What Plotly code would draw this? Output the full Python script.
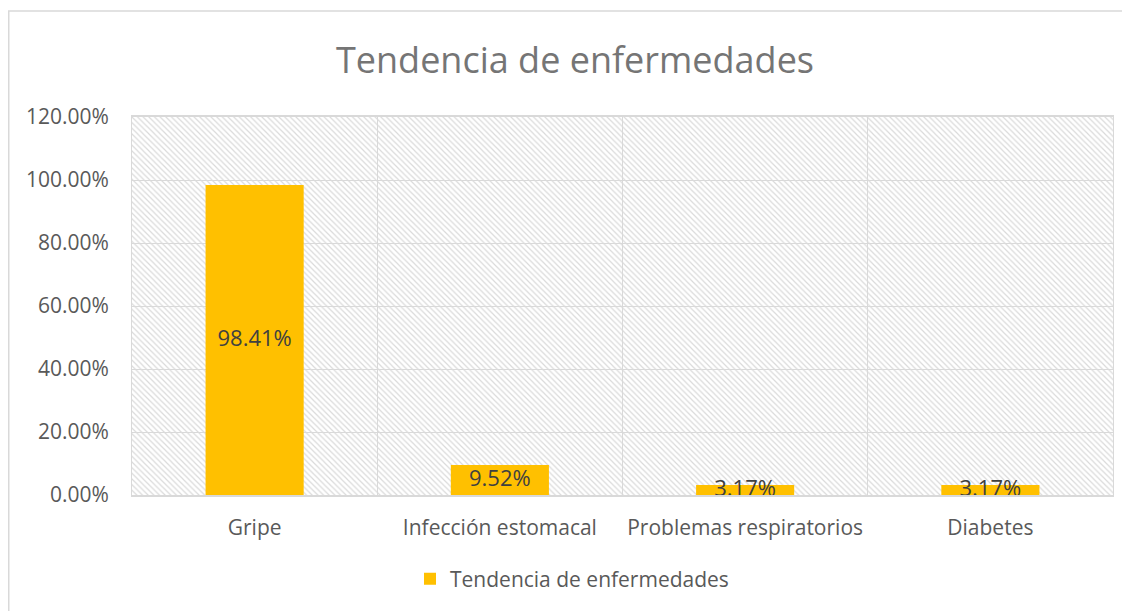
import plotly.graph_objects as go

categories = ["Gripe", "Infección estomacal", "Problemas respiratorios", "Diabetes"]
values = [0.9841, 0.0952, 0.0317, 0.0317]
series_name = "Tendencia de enfermedades"
title_text = "Tendencia de enfermedades"
y_max = 1.2

FONT = "Open Sans"
TXT = "#595959"
GRID = "#d9d9d9"

W, H = 1122, 603          # page body has an 8px margin
PL, PT, PR, PB = 124, 109, 1105, 487
PW, PH = PR - PL, PB - PT

fig = go.Figure()

# hatched plot-area background
fig.add_trace(go.Bar(
    x=categories, y=[y_max] * len(categories), width=1,
    marker=dict(color="rgba(0,0,0,0)", line=dict(width=0),
                pattern=dict(shape="\\", fgcolor="#dadada", bgcolor="rgba(0,0,0,0)",
                             size=4, solidity=0.3, fgopacity=1)),
    showlegend=False, hoverinfo="skip",
))

fig.add_trace(go.Bar(
    x=categories, y=values, width=0.4, name=series_name,
    marker=dict(color="#FFC000", line=dict(width=0)),
))

fig.add_trace(go.Scatter(
    x=categories, y=[v / 2 for v in values], mode="text",
    text=[f"{v*100:.2f}%" for v in values],
    textfont=dict(family=FONT, size=22, color="#404040"),
    showlegend=False, hoverinfo="skip",
))

fig.update_layout(
    width=W, height=H,
    margin=dict(l=PL, r=W - PR, t=PT, b=H - PB),
    paper_bgcolor="white", plot_bgcolor="white",
    barmode="overlay",
    font=dict(family=FONT, color=TXT, size=21),
    title=dict(text=title_text, x=567 / W, xanchor="center", y=1 - 52 / H, yanchor="middle",
               xref="container", yref="container",
               font=dict(family=FONT, size=36, color="#757575")),
    legend=dict(orientation="h", xref="container", yref="container",
                x=402 / W, xanchor="left", y=1 - 571 / H, yanchor="middle",
                font=dict(family=FONT, size=21, color=TXT)),
    showlegend=True,
    shapes=[dict(type="rect", xref="paper", yref="paper",
                 x0=(0.75 - PL) / PW, x1=1.05, y0=-0.4, y1=(PB - 3) / PH,
                 line=dict(color=GRID, width=1.5), fillcolor="rgba(0,0,0,0)", layer="below")],
)

fig.update_xaxes(
    tickson="boundaries", showgrid=True, gridcolor=GRID, gridwidth=1,
    showline=True, mirror=True, linecolor=GRID, linewidth=1.5,
    ticks="", ticklabelstandoff=13, automargin=False,
    tickfont=dict(family=FONT, size=21, color=TXT),
    range=[-0.5, 3.5],
)
fig.update_yaxes(
    range=[0, y_max], dtick=0.2, tickformat=".2%",
    showgrid=True, gridcolor=GRID, gridwidth=1,
    showline=True, mirror=True, linecolor=GRID, linewidth=1,
    zeroline=False, automargin=False,
    ticks="outside", ticklen=18, tickcolor="rgba(0,0,0,0)",
    tickfont=dict(family=FONT, size=21, color=TXT),
)

fig.write_html("out.html")
